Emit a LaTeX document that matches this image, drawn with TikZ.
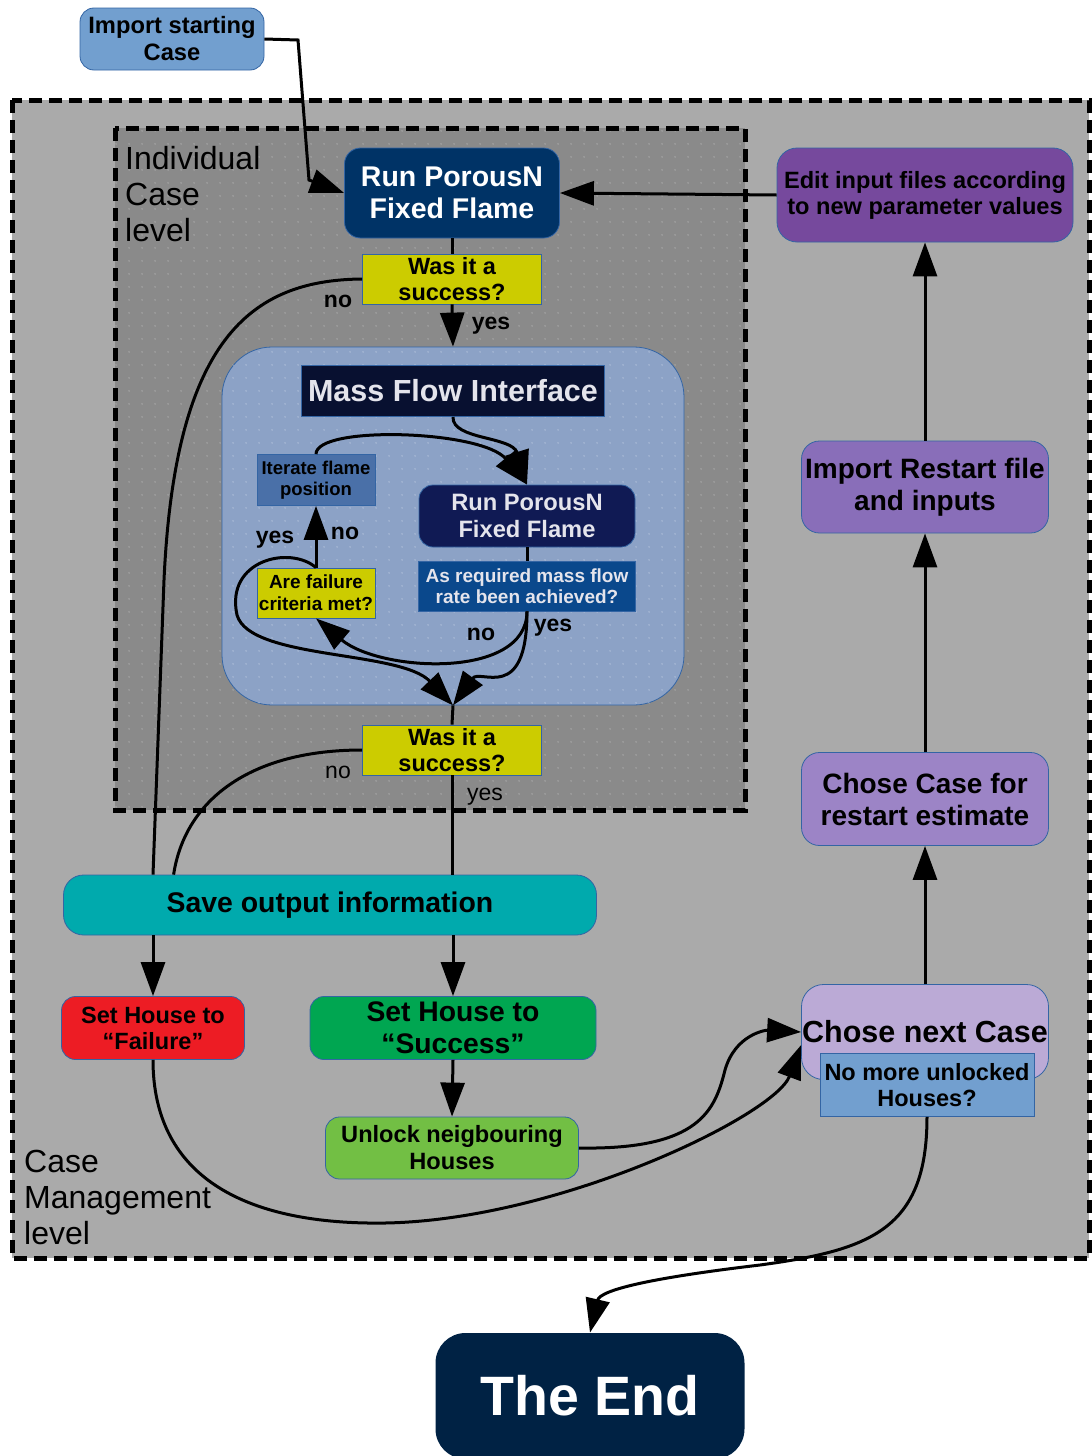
\documentclass[tikz,border=0pt]{standalone}
\usepackage{fontspec}
\setmainfont{Liberation Sans}
\usetikzlibrary{arrows.meta,positioning,patterns.meta}
\definecolor{outergray}{RGB}{170,170,170}
\definecolor{innergray}{RGB}{138,138,138}
\definecolor{innerdots}{RGB}{170,170,170}
\definecolor{edgeblue}{RGB}{52,101,164}
\definecolor{startblue}{RGB}{114,159,207}
\definecolor{runnavy}{RGB}{0,51,102}
\definecolor{editpurple}{RGB}{118,73,157}
\definecolor{qyellow}{RGB}{204,204,0}
\definecolor{mfblue}{RGB}{140,162,198}
\definecolor{mfdots}{RGB}{176,192,218}
\definecolor{mfnavy}{RGB}{8,16,48}
\definecolor{iterblue}{RGB}{74,112,168}
\definecolor{runnavyb}{RGB}{16,26,84}
\definecolor{qblue}{RGB}{10,72,140}
\definecolor{saveteal}{RGB}{0,170,173}
\definecolor{failred}{RGB}{237,28,36}
\definecolor{succgreen}{RGB}{0,166,81}
\definecolor{unlockgreen}{RGB}{114,191,68}
\definecolor{nextlav}{RGB}{187,170,214}
\definecolor{restpurple}{RGB}{156,132,198}
\definecolor{imppurple}{RGB}{137,110,185}
\definecolor{endnavy}{RGB}{0,34,68}
\definecolor{lighttext}{RGB}{228,228,236}
\newcommand{\fsz}[2]{\fontsize{#1}{#2}\selectfont}
\tikzset{
    flowbox/.style={
    rectangle,rounded corners=14pt,draw=edgeblue,line width=0.8pt,align=center,inner sep=0pt
    },
    question/.style={
    rectangle,draw=edgeblue,line width=0.8pt,align=center,inner sep=0pt
    },
    answer/.style={
    font=\bfseries\fsz{23}{26},inner sep=0pt
    },
    levelnote/.style={
    align=left,anchor=north west,font=\fsz{32}{36},inner sep=0pt
    },
    frame/.style={
    line width=5pt,dash pattern=on 13pt off 7pt
    },
    dotted fill/.style={
    postaction={pattern={Dots[distance=13pt,radius=0.9pt]},pattern color=#1}
    },
    flow/.style={
    line width=3pt,-{Triangle[length=34pt,width=24pt]}
    },
    plain/.style={
    line width=3pt
    },
}
\begin{document}
\begin{tikzpicture}[x=1pt,y=-1pt]
  \useasboundingbox (0,0) rectangle (1092,1456);
  % frames
  \draw[frame,fill=outergray] (12,100) rectangle (1089,1258);
  \fill[innergray,dotted fill=innerdots] (115,128) rectangle (745,810);
  \draw[frame] (115,128) rectangle (745,810);
  \node[levelnote] (indiv) at (125,146) {Individual\\Case\\level};
  \node[levelnote] (casemgmt) at (24,1150) {Case\\Management\\level};

  % individual case level
  \node[flowbox,fill=startblue,minimum width=184pt,minimum height=62pt,font=\bfseries\fsz{23.7}{27}] (start) at (172,39) {Import starting\\Case};
  \node[flowbox,rounded corners=16pt,fill=runnavy,text=white,minimum width=215pt,minimum height=90pt,font=\bfseries\fsz{28.5}{32}] (run1) at (452,193) {Run PorousN\\Fixed Flame};
  \node[flowbox,rounded corners=20pt,fill=editpurple,minimum width=296pt,minimum height=94pt,font=\bfseries\fsz{23.6}{26}] (edit) at (925,195) {Edit input files according\\to new parameter values};
  \node[question,fill=qyellow,minimum width=179pt,minimum height=50pt,font=\bfseries\fsz{23.5}{26}] (succ1) at (452,279) {Was it a\\success?};
  \node[flowbox,rounded corners=50pt,fill=mfblue,dotted fill=mfdots,minimum width=462pt,minimum height=358pt] (mf) at (453,526) {};
  \node[question,draw=edgeblue,fill=mfnavy,text=lighttext,minimum width=303pt,minimum height=51pt,font=\bfseries\fsz{30.5}{34}] (mftitle) at (453,391) {Mass Flow Interface};
  \node[question,fill=iterblue,minimum width=118pt,minimum height=51pt,font=\bfseries\fsz{18.5}{21}] (iter) at (316,480) {Iterate flame\\position};
  \node[flowbox,fill=runnavyb,text=lighttext,minimum width=216pt,minimum height=62pt,font=\bfseries\fsz{23.7}{27}] (run2) at (527,516) {Run PorousN\\Fixed Flame};
  \node[question,fill=qblue,text=lighttext,minimum width=217pt,minimum height=50pt,font=\bfseries\fsz{19}{21}] (massq) at (527,586) {As required mass flow\\rate been achieved?};
  \node[question,fill=qyellow,minimum width=118pt,minimum height=50pt,font=\bfseries\fsz{19}{22}] (failq) at (316,593) {Are failure\\criteria met?};
  \node[question,fill=qyellow,minimum width=179pt,minimum height=50pt,font=\bfseries\fsz{23.5}{26}] (succ2) at (452,750) {Was it a\\success?};

  % case management level
  \node[flowbox,rounded corners=20pt,fill=saveteal,minimum width=533pt,minimum height=60pt,font=\bfseries\fsz{28.4}{30}] (save) at (330,905) {Save output information};
  \node[flowbox,fill=failred,minimum width=183pt,minimum height=63pt,font=\bfseries\fsz{23.5}{26}] (fail) at (153,1028) {Set House to\\“Failure”};
  \node[flowbox,fill=succgreen,minimum width=286pt,minimum height=63pt,font=\bfseries\fsz{28.3}{32}] (success) at (453,1028) {Set House to\\“Success”};
  \node[flowbox,fill=unlockgreen,minimum width=253pt,minimum height=62pt,font=\bfseries\fsz{23.6}{27}] (unlock) at (452,1148) {Unlock neigbouring\\Houses};
  \node[flowbox,rounded corners=22pt,fill=nextlav,minimum width=247pt,minimum height=95pt,font=\bfseries\fsz{30.5}{32}] (next) at (925,1032) {Chose next Case};
  \node[question,fill=startblue,minimum width=214pt,minimum height=63pt,font=\bfseries\fsz{23.5}{26}] (nomore) at (927,1085) {No more unlocked\\Houses?};
  \node[flowbox,rounded corners=18pt,fill=restpurple,minimum width=247pt,minimum height=93pt,font=\bfseries\fsz{28}{32}] (restart) at (925,799) {Chose Case for\\restart estimate};
  \node[flowbox,rounded corners=18pt,fill=imppurple,minimum width=247pt,minimum height=92pt,font=\bfseries\fsz{28}{32}] (importr) at (925,487) {Import Restart file\\and inputs};
  \node[flowbox,rounded corners=30pt,draw=none,fill=endnavy,text=white,minimum width=309pt,minimum height=126pt,font=\bfseries\fsz{55.5}{60}] (theend) at (590,1396) {The End};

  % answers
  \node[answer] (no1) at (338,301) {no};
  \node[answer] (yes1) at (491,326) {yes};
  \node[answer] (yes2) at (275,540) {yes};
  \node[answer] (no2) at (345,533) {no};
  \node[answer] (no3) at (481,634) {no};
  \node[answer] (yes3) at (553,628) {yes};
  \node[answer,font=\fsz{23}{26}] (no4) at (338,772) {no};
  \node[answer,font=\fsz{23}{26}] (yes4) at (485,797) {yes};

  % connectors
  \draw[flow] (start.east) -- (298,40) -- (309,180) -- (run1.west);
  \draw[flow] (edit.west) -- (run1.east);
  \draw[plain] (run1.south) -- (succ1.north);
  \draw[flow] (succ1.south) -- (mf.north);
  \draw[plain] (succ1.west) .. controls (250,280) and (175,340) .. (164,580) -- (save.north -| fail.north);
  \draw[flow] (mftitle.south) .. controls (452,440) and (512,436) .. (run2.north);
  \draw[flow] (iter.north) .. controls (316,425) and (482,430) .. (run2.north);
  \draw[plain] (run2.south) -- (massq.north);
  \draw[flow] (massq.south) .. controls (527,680) and (380,672) .. (failq.south);
  \draw[flow] (massq.south) .. controls (527,705) and (480,668) .. (mf.south);
  \draw[flow] (failq.north) -- (iter.south);
  \draw[flow] (failq.north) .. controls (290,545) and (225,560) .. (237,615) .. controls (250,660) and (400,650) .. (mf.south);
  \draw[plain] (mf.south) -- (succ2.north);
  \draw[plain] (succ2.west) .. controls (250,750) and (185,800) .. (save.169.4);
  \draw[plain] (succ2.south) -- (save.north -| succ2.south);
  \draw[flow] (save.south -| fail.north) -- (fail.north);
  \draw[flow] (save.south -| success.north) -- (success.north);
  \draw[flow] (success.south) -- (unlock.north);
  \draw[flow] (unlock.east) .. controls (700,1150) and (715,1110) .. (725,1070) .. controls (735,1035) and (765,1030) .. (next.west);
  \draw[flow] (fail.south) .. controls (153,1180) and (250,1225) .. (385,1223) .. controls (560,1220) and (775,1115) .. (next.186);
  \draw[flow] (next.north) -- (restart.south);
  \draw[flow] (restart.north) -- (importr.south);
  \draw[flow] (importr.north) -- (edit.south);
  \draw[flow] (nomore.south) .. controls (927,1230) and (870,1250) .. (760,1265) .. controls (650,1278) and (600,1290) .. (theend.north);
\end{tikzpicture}
\end{document}
